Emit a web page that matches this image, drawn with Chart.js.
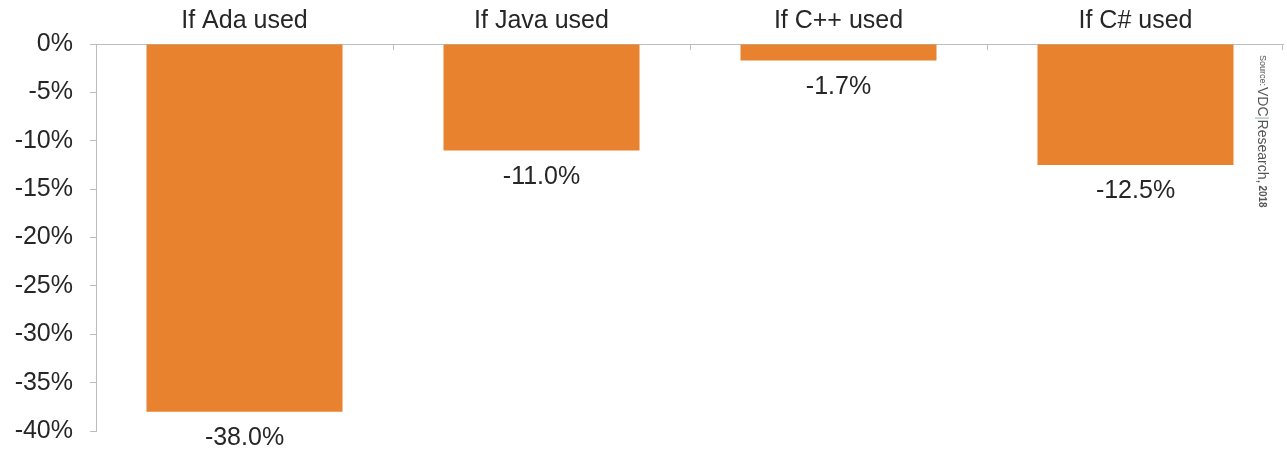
<!DOCTYPE html>
<html lang="en">
<head>
    <meta charset="UTF-8">
    <title>Cost change by language</title>
    <script src="https://cdn.jsdelivr.net/npm/chart.js"></script>
    <style>
        body { margin: 0; background: #fff; }
        #wrap { width: 1287px; height: 454px; }
    </style>
</head>
<body>
    <div id="wrap"><canvas id="costChart" width="1287" height="454"></canvas></div>

    <script>
        // Values
        const categories = ['If Ada used', 'If Java used', 'If C++ used', 'If C# used'];
        const changes = [-38.0, -11.0, -1.7, -12.5];
        const yTicks = [0, -5, -10, -15, -20, -25, -30, -35, -40];

        const barColor = '#E8822F';
        const textColor = '#262626';
        const axisColor = '#bdbdbd';
        const fontFamily = '"Liberation Sans", Arial, sans-serif';

        // labels under each bar + small boundary ticks on the zero line
        const extras = {
            id: 'extras',
            afterDraw(chart) {
                const ctx = chart.ctx;
                const x = chart.scales.x, y = chart.scales.y;
                const zeroY = y.getPixelForValue(0);
                ctx.save();
                ctx.strokeStyle = axisColor;
                ctx.lineWidth = 1;
                for (let i = 0; i < categories.length; i++) {
                    const bx = i < categories.length - 1
                        ? (x.getPixelForTick(i) + x.getPixelForTick(i + 1)) / 2
                        : chart.chartArea.right - 2;
                    ctx.beginPath();
                    ctx.moveTo(Math.round(bx) + 0.5, zeroY);
                    ctx.lineTo(Math.round(bx) + 0.5, zeroY + 6);
                    ctx.stroke();
                }
                ctx.fillStyle = textColor;
                ctx.font = '25px ' + fontFamily;
                ctx.textAlign = 'center';
                ctx.textBaseline = 'top';
                chart.getDatasetMeta(0).data.forEach((bar, i) => {
                    ctx.fillText(changes[i].toFixed(1) + '%', bar.x, bar.y + 14);
                });

                // source note, rotated, pieces laid out one after another
                ctx.translate(1262, 55);
                ctx.rotate(Math.PI / 2);
                ctx.textAlign = 'left';
                ctx.textBaseline = 'middle';
                ctx.fillStyle = '#555';
                let pos = 0;
                const piece = (txt, font, gap) => {
                    ctx.font = font;
                    ctx.fillText(txt, pos, 0);
                    pos += ctx.measureText(txt).width + gap;
                };
                piece('Source:', '9px ' + fontFamily, 1);
                piece('VDC', '14px ' + fontFamily, 1);
                ctx.strokeStyle = '#8fb3a0';
                ctx.beginPath();
                ctx.moveTo(pos + 0.5, -7); ctx.lineTo(pos + 0.5, 7); ctx.stroke();
                pos += 2;
                piece('Research,', '14px ' + fontFamily, 2);
                piece('2018', 'bold 10px ' + fontFamily, 0);
                ctx.restore();
            }
        };

        const ctx = document.getElementById('costChart').getContext('2d');
        new Chart(ctx, {
            type: 'bar',
            data: {
                labels: categories,
                datasets: [{
                    data: changes,
                    backgroundColor: barColor,
                    borderWidth: 0,
                    barPercentage: 0.66,
                    categoryPercentage: 1.0
                }]
            },
            options: {
                responsive: false,
                animation: false,
                layout: { padding: { left: 0, right: 3, top: 0, bottom: 23 } },
                plugins: {
                    legend: { display: false },
                    tooltip: { enabled: false }
                },
                scales: {
                    x: {
                        position: 'top',
                        offset: true,
                        grid: { display: false },
                        border: { display: false },
                        ticks: {
                            color: textColor,
                            font: { size: 25, family: fontFamily },
                            padding: 0,
                            maxRotation: 0
                        },
                        afterFit: s => { s.height = 44; }
                    },
                    y: {
                        min: -40,
                        max: 0,
                        afterBuildTicks: s => { s.ticks = yTicks.map(v => ({ value: v })); },
                        grid: {
                            color: c => (c.tick && c.tick.value === 0 ? axisColor : 'transparent'),
                            tickColor: axisColor,
                            tickLength: 6,
                            lineWidth: 1
                        },
                        border: { display: true, color: axisColor },
                        ticks: {
                            color: textColor,
                            font: { size: 25, family: fontFamily },
                            padding: 17,
                            callback: v => v + '%'
                        },
                        afterFit: s => {
                            s.width = 96;
                            s.paddingTop = 0;
                            s.paddingBottom = 0;
                        }
                    }
                }
            },
            plugins: [extras]
        });
    </script>
</body>
</html>
